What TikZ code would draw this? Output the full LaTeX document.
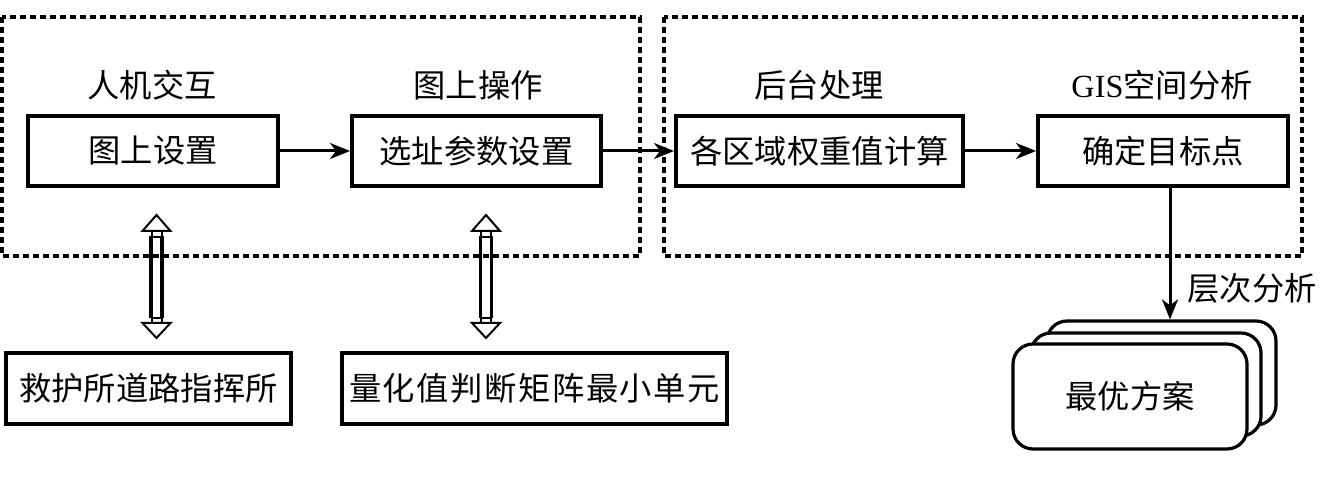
\documentclass[tikz,border=0pt]{standalone}
\usepackage{fontspec}
\newfontfamily\cjk{Noto Sans CJK SC}
\newfontfamily\tms{Liberation Serif}
\usetikzlibrary{arrows.meta,calc}
\newcommand\HollowArrow[2]{%
  \draw[shaftl] ($(#1)+(-5.5,21)$) -- ($(#2)+(-5.5,-20)$);
  \draw[shaftl] ($(#1)+(5.5,21)$) -- ($(#2)+(5.5,-20)$);
  \draw[thinl] ($(#1)+(-5,15)$) rectangle ($(#1)+(5,22)$);
  \draw[thinl] ($(#2)+(-5,-13)$) rectangle ($(#2)+(5,-20)$);
  \draw[thinl] (#1) -- ($(#1)+(-14,16)$) -- ($(#1)+(14,16)$) -- cycle;
  \draw[thinl] (#2) -- ($(#2)+(-14,-15)$) -- ($(#2)+(14,-15)$) -- cycle;
}
\newcommand\ks{\kern1.2pt}
\begin{document}
\begin{tikzpicture}[x=0.75pt,y=-0.75pt,
  font=\cjk\fontsize{24.2}{29}\selectfont,
  box/.style={draw, line width=3pt, inner sep=0pt, fill=white},
  lbl/.style={inner sep=0pt},
  conn/.style={line width=2.25pt, -{Stealth[length=15pt,width=12pt,inset=4.5pt]}},
  dotbox/.style={line width=3pt, dash pattern=on 4.5pt off 3pt},
  docbox/.style={draw, line width=2.4pt, fill=white, rounded corners=15pt, inner sep=0pt},
  thinl/.style={line width=1.5pt, fill=white, line join=miter},
  shaftl/.style={line width=2.8pt}]
\useasboundingbox (0,0) rectangle (1320,484);
% group frames
\draw[dotbox] (2,17) rectangle (640,256);
\draw[dotbox] (664,17) rectangle (1302,256);
% group labels
\node[lbl] (l1) at (152,85) {人机交互};
\node[lbl] (l2) at (478,85) {图上操作};
\node[lbl] (l3) at (819,85) {后台处理};
\node[lbl] (l4) at (1162,85) {{\tms GIS}空间分析};
% main boxes
\node[box, minimum width=187.5pt, minimum height=52.5pt] (b1) at (153,151) {图上设置};
\node[box, minimum width=186.75pt, minimum height=52.5pt] (b2) at (476.5,151) {选址参数设置};
\node[box, minimum width=215.25pt, minimum height=52.5pt] (b3) at (819.5,151) {各区域权重值计算};
\node[box, minimum width=187.5pt, minimum height=52.5pt] (b4) at (1163,151) {确定目标点};
% bottom boxes
\node[box, minimum width=213.75pt, minimum height=53.25pt] (b5) at (148.5,388.5) {\makebox[0pt]{救护所道路指挥所}};
\node[box, minimum width=288.75pt, minimum height=53.25pt] (b6) at (534.5,388.5) {\makebox[0pt]{量\ks 化\ks 值\ks 判\ks 断\ks 矩\ks 阵\ks 最\ks 小\ks 单\ks 元}};
% stacked documents
\node[docbox, minimum width=171.75pt, minimum height=78pt] (s3) at (1161.5,373) {};
\node[docbox, minimum width=172.5pt, minimum height=77.25pt] (s2) at (1146,384.5) {};
\node[docbox, minimum width=175.5pt, minimum height=78.75pt] (s1) at (1130,396.5) {最优方案};
\node[lbl] (l5) at (1252,288) {层次分析};
% connectors
\draw[conn] (b1) -- (b2);
\draw[conn] (b2) -- (b3);
\draw[conn] (b3) -- (b4);
\coordinate (p4) at ($(b4.south)+(7,0)$);
\draw[conn] (p4) -- (p4 |- s3.north);
% hollow double arrows
\coordinate (h1t) at (156.5,215);
\coordinate (h1b) at (156.5,338);
\coordinate (h2t) at (486,215);
\coordinate (h2b) at (486,338);
\HollowArrow{h1t}{h1b}
\HollowArrow{h2t}{h2b}
\end{tikzpicture}
\end{document}
